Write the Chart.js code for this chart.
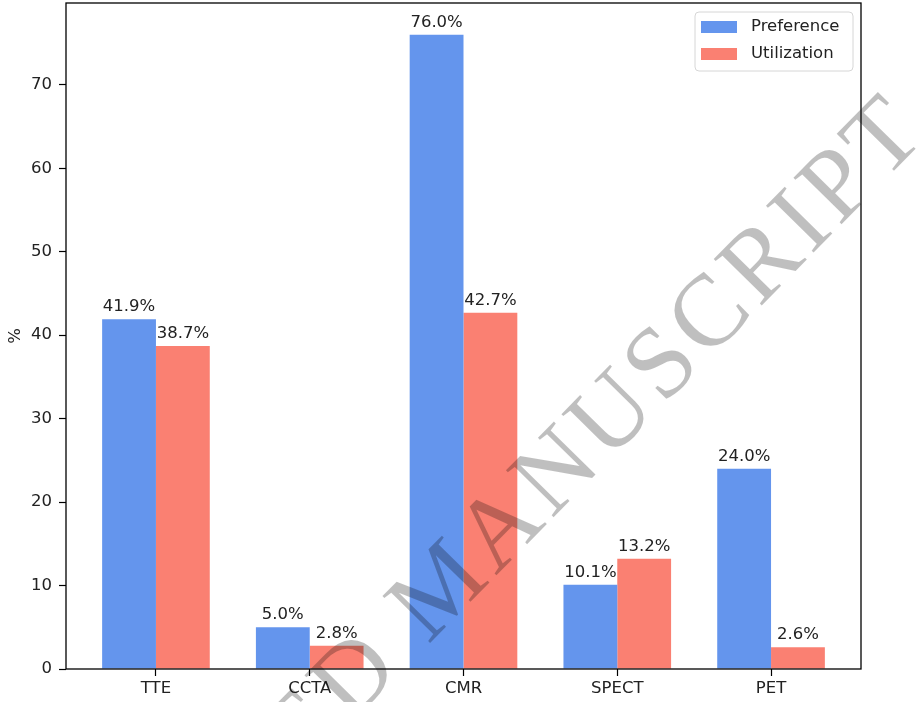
<!DOCTYPE html>
<html>
<head>
<meta charset="utf-8">
<script src="https://cdn.jsdelivr.net/npm/chart.js@4.4.1/dist/chart.umd.min.js"></script>
<style>
  html, body { margin: 0; padding: 0; background: #fff; }
  canvas { display: block; }
</style>
</head>
<body>
<canvas id="chart" width="916" height="702"></canvas>
<script>
// data
const categories = ['TTE', 'CCTA', 'CMR', 'SPECT', 'PET'];
const preference = [41.9, 5.0, 76.0, 10.1, 24.0];
const utilization = [38.7, 2.8, 42.7, 13.2, 2.6];
const yTicks = [0, 10, 20, 30, 40, 50, 60, 70];

const FONT = "'DejaVu Sans', sans-serif";
const TEXT = '#222';

// frame, value labels, legend, watermark
const extras = {
    id: 'extras',
    afterDatasetsDraw(chart) {
        const ctx = chart.ctx;
        const a = chart.chartArea;
        ctx.save();
        // value labels
        ctx.font = '16.5px ' + FONT;
        ctx.fillStyle = TEXT;
        ctx.textAlign = 'center';
        ctx.textBaseline = 'alphabetic';
        chart.data.datasets.forEach((ds, di) => {
            chart.getDatasetMeta(di).data.forEach((bar, i) => {
                ctx.fillText(ds.data[i].y.toFixed(1) + '%', bar.x, bar.y - 8);
            });
        });
        // box
        ctx.strokeStyle = '#000';
        ctx.lineWidth = 1.3;
        ctx.strokeRect(a.left, a.top, a.right - a.left, a.bottom - a.top);

        // legend
        const lx = 695, ly = 12, lw = 158, lh = 59;
        ctx.beginPath();
        ctx.roundRect(lx, ly, lw, lh, 4);
        ctx.fillStyle = 'rgba(255,255,255,0.8)';
        ctx.fill();
        ctx.strokeStyle = '#d6d6d6';
        ctx.lineWidth = 1;
        ctx.stroke();
        ctx.textAlign = 'left';
        ctx.textBaseline = 'middle';
        chart.data.datasets.forEach((ds, di) => {
            const y = 27 + di * 27;
            ctx.fillStyle = ds.backgroundColor;
            ctx.fillRect(701, y - 6, 36, 12);
            ctx.fillStyle = TEXT;
            ctx.fillText(ds.label, 751, y);
        });
        ctx.restore();
    },
    afterDraw(chart) {
        const ctx = chart.ctx;
        ctx.save();
        ctx.translate(428, 645);
        ctx.rotate(-45.5 * Math.PI / 180);
        ctx.font = "102px 'Liberation Serif', serif";
        ctx.letterSpacing = '6px';
        ctx.fillStyle = 'rgba(0,0,0,0.25)';
        ctx.textBaseline = 'alphabetic';
        ctx.textAlign = 'right';
        ctx.fillText('ACCEPTED ', 0, 0);
        ctx.textAlign = 'left';
        ctx.fillText('MANUSCRIPT', 0, 0);
        ctx.restore();
    }
};

new Chart(document.getElementById('chart'), {
    type: 'bar',
    data: {
        datasets: [{
            label: 'Preference',
            data: preference.map((v, i) => ({ x: i, y: v })),
            backgroundColor: '#6495ED',
            borderWidth: 0
        }, {
            label: 'Utilization',
            data: utilization.map((v, i) => ({ x: i, y: v })),
            backgroundColor: '#FA8072',
            borderWidth: 0
        }]
    },
    options: {
        responsive: false,
        animation: false,
        categoryPercentage: 0.7,
        barPercentage: 1.0,
        layout: { padding: { top: 3, right: 55, left: 0, bottom: 0 } },
        plugins: {
            legend: { display: false },
            tooltip: { enabled: false }
        },
        scales: {
            x: {
                type: 'linear',
                min: -0.585,
                max: 4.585,
                offset: false,
                afterBuildTicks: s => { s.ticks = categories.map((c, i) => ({ value: i })); },
                afterFit: s => { s.height = 33; s.paddingLeft = 0; s.paddingRight = 0; },
                border: { display: false },
                grid: { offset: false, drawOnChartArea: false, tickLength: 7, tickColor: '#000', tickWidth: 1.2 },
                ticks: {
                    padding: 3,
                    color: TEXT,
                    font: { family: FONT, size: 16.5 },
                    maxRotation: 0,
                    callback: v => categories[v] ?? ''
                }
            },
            y: {
                min: 0,
                max: 79.8,
                afterBuildTicks: s => { s.ticks = yTicks.map(v => ({ value: v })); },
                afterFit: s => { s.width = 66; s.paddingTop = 0; s.paddingBottom = 0; },
                border: { display: false },
                grid: { drawOnChartArea: false, tickLength: 7, tickColor: '#000', tickWidth: 1.2 },
                ticks: {
                    padding: 7,
                    color: TEXT,
                    font: { family: FONT, size: 16.5 }
                },
                title: {
                    display: true,
                    text: '%',
                    color: TEXT,
                    font: { family: FONT, size: 16.5 },
                    padding: { top: 6, bottom: 0 }
                }
            }
        }
    },
    plugins: [extras]
});
</script>
</body>
</html>
